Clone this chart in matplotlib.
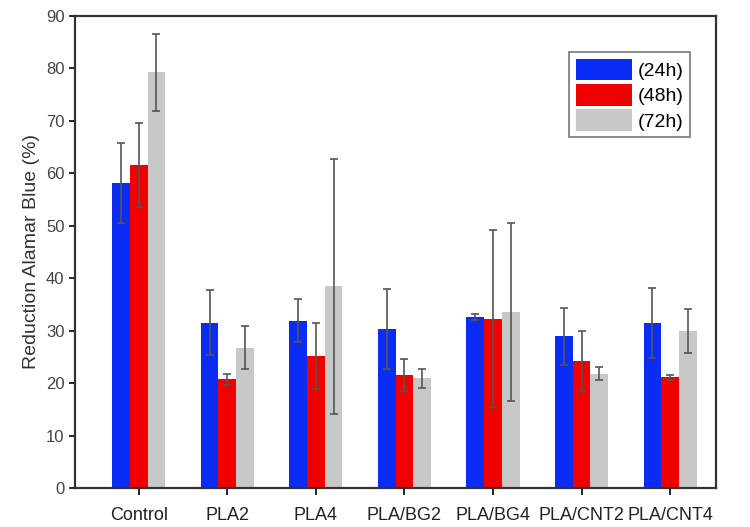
import matplotlib.pyplot as plt
import numpy as np

plt.rcParams['font.family'] = ['Liberation Sans', 'DejaVu Sans']

groups = ['Control', 'PLA2', 'PLA4', 'PLA/BG2', 'PLA/BG4', 'PLA/CNT2', 'PLA/CNT4']
h24 = [58.2, 31.5, 31.9, 30.3, 32.6, 28.9, 31.5]
h24_err = [7.6, 6.2, 4.1, 7.7, 0.6, 5.4, 6.7]
h48 = [61.5, 20.7, 25.2, 21.5, 32.3, 24.2, 21.1]
h48_err = [8.0, 1.1, 6.3, 3.1, 16.9, 5.8, 0.5]
h72 = [79.2, 26.7, 38.5, 20.9, 33.6, 21.8, 30.0]
h72_err = [7.3, 4.1, 24.3, 1.8, 17.0, 1.3, 4.2]

x = np.arange(len(groups))
w = 0.2
fig = plt.figure(figsize=(7.5, 5.27), dpi=100)
ax = fig.add_axes([0.1, 0.074, 0.855, 0.896])

ekw = dict(ecolor='#555555', elinewidth=1.2, capsize=3, capthick=1.2)
ax.bar(x - w, h24, w, yerr=h24_err, color='#0a2cf5', label='(24h)', error_kw=ekw)
ax.bar(x, h48, w, yerr=h48_err, color='#f20000', label='(48h)', error_kw=ekw)
ax.bar(x + w, h72, w, yerr=h72_err, color='#c8c8c8', label='(72h)', error_kw=ekw)

ax.set_xlim(-0.72, 6.52)
ax.set_ylim(0, 90)
ax.set_yticks(range(0, 91, 10))
ax.set_xticks(x)
ax.set_xticklabels(groups, fontsize=13, color='#222222')
ax.tick_params(axis='y', labelsize=12, labelcolor='#444444', length=4, width=1.2)
ax.tick_params(axis='x', length=5, width=1.2, pad=9)
ax.set_ylabel('Reduction Alamar Blue (%)', fontsize=14, color='#333333')
for s in ax.spines.values():
    s.set_linewidth(1.6)
    s.set_color('#333333')

leg = ax.legend(loc='upper right', bbox_to_anchor=(0.975, 0.943), fontsize=14,
                handlelength=2.9, handleheight=1.3, borderpad=0.35,
                labelspacing=0.2, handletextpad=0.3, fancybox=False,
                edgecolor='#777777', framealpha=1)
leg.get_frame().set_linewidth(1.2)

fig.savefig('out.png', dpi=100)
